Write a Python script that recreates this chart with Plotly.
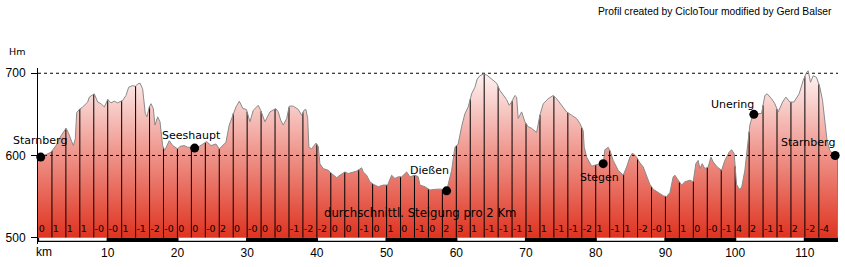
import numpy as np
import plotly.graph_objects as go

# ---------------- data ----------------
km = [0.0, 1.15, 1.86, 2.58, 3.30, 3.77, 4.02, 4.34, 4.73, 5.06, 5.35, 5.55, 5.92, 6.41, 7.13, 7.36,
      8.07, 8.56, 9.03, 9.51, 10.0, 10.47, 10.94, 11.43, 12.15, 12.62, 13.01, 13.58, 13.95, 14.30,
      14.63, 15.01, 15.39, 15.63, 15.96, 16.21, 16.54, 16.78, 17.17, 17.50, 17.88, 18.17, 18.50,
      18.83, 19.32, 20.03, 20.36, 20.98, 21.47, 22.04, 22.47, 23.13, 23.85, 24.19, 24.81, 25.53,
      26.00, 26.49, 26.96, 27.43, 28.07, 28.40, 28.87, 29.40, 29.90, 30.40, 30.88, 31.59, 31.94,
      32.22, 32.55, 33.27, 33.74, 34.09, 34.46, 34.81, 35.18, 35.67, 36.04, 36.61, 37.33, 37.82,
      38.15, 38.43, 38.68, 38.86, 39.25, 39.87, 40.20, 40.44, 40.91, 41.63, 42.12, 42.84, 43.31,
      44.03, 44.50, 45.22, 45.71, 46.08, 46.42, 46.65, 47.14, 47.61, 48.09, 48.80, 49.52, 50.15,
      50.48, 50.72, 51.20, 51.67, 52.16, 52.88, 53.35, 54.07, 54.54, 54.78, 55.50, 56.22, 57.18,
      57.89, 58.61, 58.84, 59.08, 59.33, 59.80, 60.27, 60.76, 61.24, 61.71, 62.20, 62.67, 63.00,
      63.39, 63.86, 64.35, 64.82, 65.30, 65.78, 66.26, 66.73, 67.22, 67.59, 67.93, 68.41, 68.65,
      68.88, 69.12, 69.37, 69.84, 70.31, 70.80, 71.28, 71.52, 71.99, 72.47, 73.18, 73.90, 74.39,
      75.10, 75.82, 76.54, 77.25, 77.73, 78.20, 78.35, 78.69, 79.41, 79.88, 80.60, 81.07, 81.31,
      81.79, 82.13, 82.50, 83.22, 83.94, 84.43, 84.90, 85.28, 85.86, 86.33, 86.81, 87.29, 87.76,
      88.24, 88.96, 89.68, 90.16, 90.64, 91.11, 91.35, 91.83, 92.31, 92.79, 93.50, 93.98, 94.36,
      94.69, 94.94, 95.27, 95.65, 96.13, 96.52, 96.85, 97.42, 98.05, 98.52, 99.14, 99.48, 99.86,
      100.20, 100.57, 100.92, 101.39, 101.72, 102.11, 102.58, 103.30, 103.78, 104.26, 104.59,
      105.22, 105.69, 106.17, 106.80, 107.27, 107.84, 108.42, 109.18, 109.75, 110.24, 110.47,
      110.81, 111.19, 111.67, 112.15, 112.53, 112.86, 113.19, 113.58, 113.99, 114.44, 114.75]
elev = [598, 601, 604, 612, 624, 630, 633, 628, 618, 612, 620, 652, 656, 659, 665, 671,
        675, 665, 663, 659, 668, 664, 666, 664, 667, 673, 683, 685, 684, 687,
        688, 681, 651, 647, 659, 663, 657, 637, 647, 641, 612, 606, 612,
        618, 612, 608, 611, 612, 610, 610, 609, 611, 615, 617, 612, 614,
        608, 612, 616, 637, 653, 659, 666, 657, 656, 641, 655, 661, 655,
        649, 641, 653, 655, 657, 653, 643, 637, 645, 660, 660, 656, 649,
        655, 656, 645, 610, 608, 615, 611, 590, 584, 582, 578, 573, 576,
        580, 578, 580, 581, 583, 585, 580, 576, 568, 565, 562, 564, 564,
        570, 576, 572, 574, 574, 580, 574, 576, 574, 564, 562, 558, 559,
        559, 557, 565, 572, 582, 610, 614, 635, 651, 659, 675, 683, 693,
        697, 699, 698, 695, 691, 688, 679, 673, 668, 661, 665, 673, 671,
        645, 649, 653, 641, 635, 633, 630, 628, 649, 663, 669, 673, 669,
        661, 653, 649, 645, 639, 630, 610, 598, 587, 588, 590, 589, 607,
        610, 604, 594, 582, 576, 586, 598, 603, 598, 591, 586, 574, 565,
        559, 555, 551, 550, 555, 574, 576, 570, 564, 568, 570, 568, 590,
        594, 584, 590, 584, 586, 598, 592, 586, 582, 594, 604, 607, 602,
        565, 559, 561, 582, 608, 637, 651, 651, 651, 673, 675,
        669, 663, 653, 665, 671, 665, 665, 675, 691, 701, 703,
        689, 697, 695, 683, 667, 642, 618, 606, 602, 599, 598]

grade_labels = ["0", "1", "1", "1", "-0", "-0", "1", "-1", "-2", "-0", "0", "0", "-0", "2", "0",
                "-0", "0", "0", "-1", "-2", "-2", "0", "0", "-1", "0", "1", "0", "-1", "0", "2",
                "3", "1", "-1", "-1", "-1", "1", "1", "-1", "-1", "-2", "1", "-1", "1", "-2",
                "-0", "1", "1", "0", "-0", "-1", "4", "2", "-1", "1", "2", "-2", "-4"]
segment_km = 2

place_names = ["Starnberg", "Seeshaupt", "Dießen", "Stegen", "Unering", "Starnberg"]
place_km = [0.39, 22.47, 58.61, 81.07, 102.68, 114.34]
place_elev = [598, 609, 557, 590, 650, 600]

km_ticks = [10, 20, 30, 40, 50, 60, 70, 80, 90, 100, 110]
elev_ticks = [500, 600, 700]
grid_levels = [600, 700]

# ---------------- styling / layout constants ----------------
label_shift = [(-0.7, 16.7), (-2.7, 12.7), (-17.2, 20.7), (-3.6, -13.4), (-21, 9.7), (-27.3, 12.7)]
base = 500
y_lo, y_hi = 492.3, 706.4
x_end = km[-1]
DV = "DejaVu Sans"
LS = "Liberation Sans, Arial"

fig = go.Figure()

# baseline for the fill
fig.add_trace(go.Scatter(x=[0, x_end], y=[base, base], mode="lines",
                         line=dict(width=0, color="rgba(0,0,0,0)"), hoverinfo="skip", showlegend=False))
# gradient filled profile
fig.add_trace(go.Scatter(x=km, y=elev, mode="lines", fill="tonexty",
                         line=dict(width=0, color="rgba(0,0,0,0)"),
                         fillgradient=dict(type="vertical",
                                           colorscale=[[0, "#df3320"], [1, "#fff8f8"]],
                                           start=base, stop=706),
                         hoverinfo="skip", showlegend=False))

# dashed reference lines
for lv in grid_levels:
    fig.add_trace(go.Scatter(x=[0, x_end], y=[lv, lv], mode="lines",
                             line=dict(color="black", width=1, dash="3px,3px"),
                             hoverinfo="skip", showlegend=False))

# vertical segment lines every 2 km
seg_bounds = np.arange(segment_km, x_end - 1, segment_km)
tops = np.interp(seg_bounds, km, elev)
vx, vy = [], []
for b, t in zip(seg_bounds, tops):
    vx += [b, b, None]
    vy += [base, t, None]
fig.add_trace(go.Scatter(x=vx, y=vy, mode="lines", line=dict(color="black", width=1),
                         hoverinfo="skip", showlegend=False))
# end line
fig.add_trace(go.Scatter(x=[x_end - 0.07, x_end - 0.07], y=[base, elev[-1]], mode="lines",
                         line=dict(color="#3f9a9a", width=1), hoverinfo="skip", showlegend=False))

# profile outline
fig.add_trace(go.Scatter(x=km, y=elev, mode="lines", line=dict(color="#8a8a8a", width=1),
                         hoverinfo="skip", showlegend=False))

# grade labels
seg_starts = [i * segment_km + 0.12 for i in range(len(grade_labels))]
fig.add_trace(go.Scatter(x=seg_starts, y=[509.4] * len(grade_labels), mode="text",
                         text=grade_labels, textposition="middle right",
                         textfont=dict(family=DV, size=9.5, color="black"),
                         hoverinfo="skip", showlegend=False, cliponaxis=False))

# scale bar (alternating 10 km)
bounds = [0] + km_ticks + [x_end]
fig.add_trace(go.Scatter(x=[0, x_end, x_end, 0, 0], y=[base, base, 494.8, 494.8, base],
                         mode="lines", fill="toself", fillcolor="black", line=dict(width=0),
                         hoverinfo="skip", showlegend=False))
wx, wy = [], []
for j in range(len(bounds) - 1):
    if j % 2 == 0:
        a, b = bounds[j] + 0.16, bounds[j + 1] - 0.16
        wx += [a, b, b, a, a, None]
        wy += [base, base, 496.2, 496.2, base, None]
fig.add_trace(go.Scatter(x=wx, y=wy, mode="lines", fill="toself", fillcolor="white",
                         line=dict(width=0), hoverinfo="skip", showlegend=False))

# place markers
fig.add_trace(go.Scatter(x=place_km, y=place_elev, mode="markers",
                         marker=dict(color="black", size=9), cliponaxis=False,
                         hoverinfo="skip", showlegend=False))

annotations = []
for name, xk, ye, (dx, dy) in zip(place_names, place_km, place_elev, label_shift):
    annotations.append(dict(x=xk, y=ye, xref="x", yref="y", text=name, showarrow=False,
                            xanchor="center", yanchor="middle", xshift=dx, yshift=dy,
                            font=dict(family=DV, size=11, color="black")))

annotations += [
    dict(x=0.4775, y=0.1744, xref="paper", yref="paper", text="durchschnittl. Steigung pro 2 Km",
         showarrow=False, xanchor="center", yanchor="middle",
         font=dict(family=DV, size=11.7, color="black")),
    dict(x=-0.02625, y=1.0926, xref="paper", yref="paper", text="Hm", showarrow=False,
         xanchor="center", yanchor="middle", font=dict(family=DV, size=9.5, color="black")),
    dict(x=0.0069, y=-0.0455, xref="paper", yref="paper", text="km", showarrow=False,
         xanchor="center", yanchor="middle", font=dict(family=LS, size=12, color="black")),
    dict(x=0.995, y=1.321, xref="paper", yref="paper",
         text="Profil created by CicloTour modified by Gerd Balser", showarrow=False,
         xanchor="right", yanchor="middle", font=dict(family=LS, size=10.3, color="black")),
]

fig.update_layout(
    width=845, height=267,
    margin=dict(l=38, r=7, t=68, b=23, pad=0),
    paper_bgcolor="white", plot_bgcolor="white",
    showlegend=False,
    annotations=annotations,
    xaxis=dict(range=[0, x_end], showgrid=False, zeroline=False, showline=False,
               tickmode="array", tickvals=km_ticks, ticktext=[str(t) for t in km_ticks],
               ticks="", tickfont=dict(family=LS, size=12, color="black")),
    yaxis=dict(range=[y_lo, y_hi], showgrid=False, zeroline=False, showline=True,
               linecolor="black", linewidth=1, tickmode="array", tickvals=elev_ticks,
               ticks="outside", ticklen=6, tickcolor="black", tickwidth=1,
               ticklabelstandoff=3,
               tickfont=dict(family=LS, size=12, color="black")),
)

fig.write_html("out.html")
